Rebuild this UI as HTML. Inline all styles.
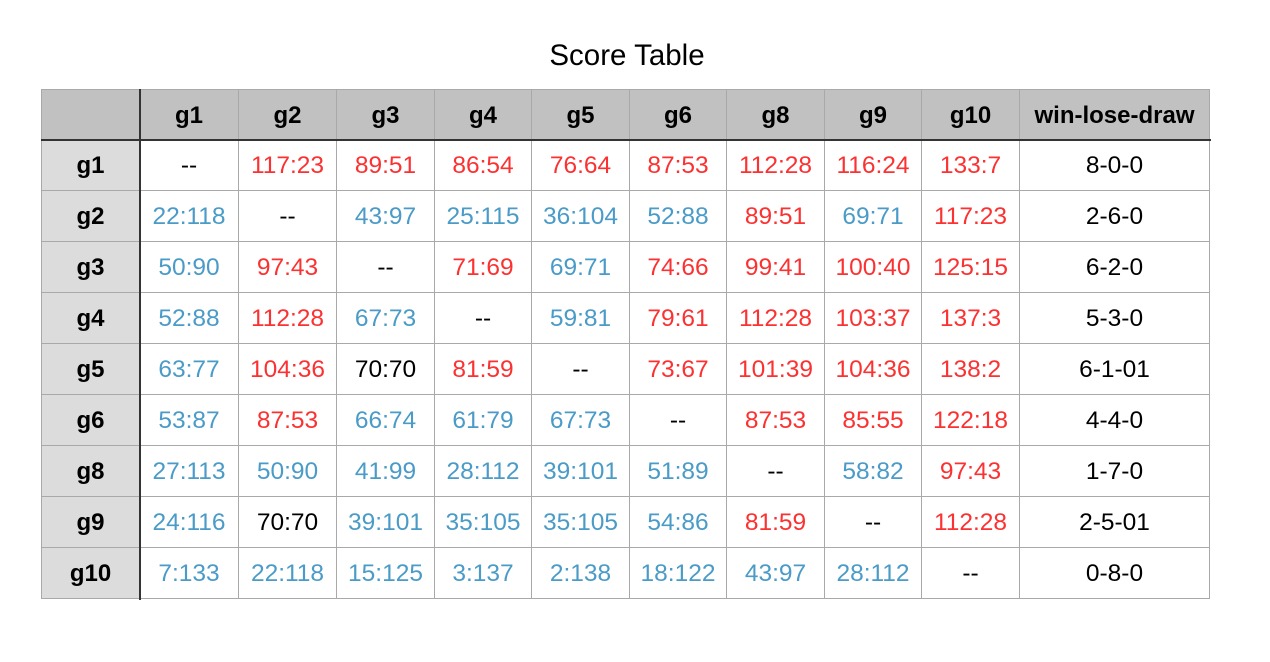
<!DOCTYPE html>
<html><head><meta charset="utf-8"><style>
body{margin:0;width:1270px;height:662px;background:#fff;font-family:"Liberation Sans",Arial,sans-serif;position:relative;overflow:hidden}
#title{position:absolute;left:0;width:1254px;top:39px;text-align:center;font-size:29.5px;color:#000}
.c{position:absolute;box-sizing:border-box;display:flex;align-items:center;justify-content:center;font-size:24.5px;border-right:1px solid #a9a9a9;border-bottom:1px solid #a9a9a9;padding-top:2px}
.h{background:#c0c1c0;font-weight:bold;font-size:24px}
.rh{background:#dcdcdc;font-weight:bold;font-size:24px}
.r{color:#fc3131}.b{color:#4a9bc7}.k{color:#000}
</style></head><body>
<div id="title">Score Table</div>
<div id="t"></div>
<script>
const cols=["g1","g2","g3","g4","g5","g6","g8","g9","g10","win-lose-draw"];
const rows=["g1","g2","g3","g4","g5","g6","g8","g9","g10"];
const scores=[
["--","117:23","89:51","86:54","76:64","87:53","112:28","116:24","133:7","8-0-0"],
["22:118","--","43:97","25:115","36:104","52:88","89:51","69:71","117:23","2-6-0"],
["50:90","97:43","--","71:69","69:71","74:66","99:41","100:40","125:15","6-2-0"],
["52:88","112:28","67:73","--","59:81","79:61","112:28","103:37","137:3","5-3-0"],
["63:77","104:36","70:70","81:59","--","73:67","101:39","104:36","138:2","6-1-01"],
["53:87","87:53","66:74","61:79","67:73","--","87:53","85:55","122:18","4-4-0"],
["27:113","50:90","41:99","28:112","39:101","51:89","--","58:82","97:43","1-7-0"],
["24:116","70:70","39:101","35:105","35:105","54:86","81:59","--","112:28","2-5-01"],
["7:133","22:118","15:125","3:137","2:138","18:122","43:97","28:112","--","0-8-0"]];
const xs=[41,140,239,337,435,532,630,727,825,922,1020,1210];
const y0=89,hh=51,rh=51;
const t=document.getElementById('t');
function cell(x,y,w,h,txt,cls){const d=document.createElement('div');d.className='c '+cls;d.style.left=x+'px';d.style.top=y+'px';d.style.width=w+'px';d.style.height=h+'px';d.textContent=txt;t.appendChild(d);return d;}
let d=cell(xs[0],y0,xs[1]-xs[0],hh,'','h');d.style.borderLeft='1px solid #a9a9a9';d.style.borderTop='1px solid #a9a9a9';


cols.forEach((c,i)=>{const e=cell(xs[i+1],y0,xs[i+2]-xs[i+1],hh,c,'h');e.style.borderTop='1px solid #a9a9a9';

});
rows.forEach((r,j)=>{const y=y0+hh+j*rh;
const e=cell(xs[0],y,xs[1]-xs[0],rh,r,'rh');e.style.borderLeft='1px solid #a9a9a9';


scores[j].forEach((v,i)=>{let cls='k';if(i<9&&v!=='--'){const p=v.split(':').map(Number);cls=p[0]>p[1]?'r':p[0]<p[1]?'b':'k';}
const f=cell(xs[i+1],y,xs[i+2]-xs[i+1],rh,v,cls);

});});
const l1=document.createElement('div');l1.style.cssText='position:absolute;left:41px;top:139px;width:1170px;height:2px;background:#333';t.appendChild(l1);


const l2=document.createElement('div');l2.style.cssText='position:absolute;left:139px;top:89px;width:2px;height:511px;background:#333';t.appendChild(l2);


</script>
</body></html>
